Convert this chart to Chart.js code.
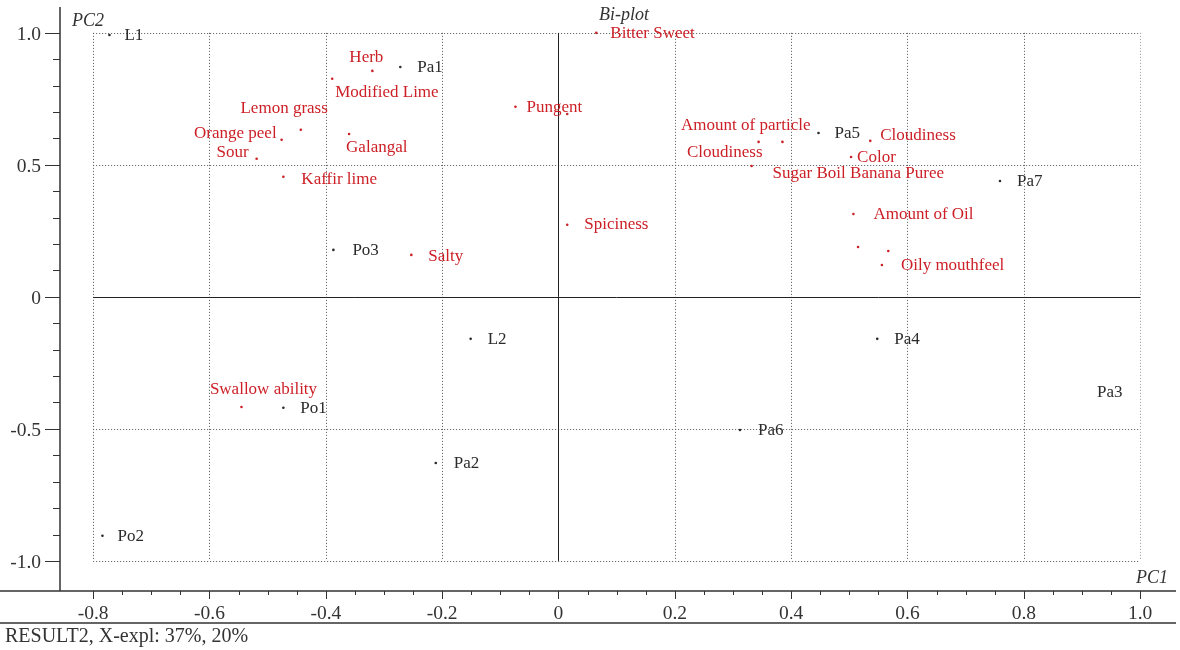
<!DOCTYPE html>
<html>
<head>
<meta charset="utf-8">
<script src="https://cdn.jsdelivr.net/npm/chart.js@4"></script>
<style>
    body { margin: 0; background: #fff; }
</style>
</head>
<body>
<canvas id="myChart" width="1180" height="650"></canvas>
<script>
// samples (black)
const sampleNames = ["L1", "Pa1", "Po3", "L2", "Po1", "Pa2", "Po2", "Pa6", "Pa4", "Pa3", "Pa5", "Pa7"];
const samplePC1 = [-0.772, -0.272, -0.387, -0.151, -0.473, -0.211, -0.784, 0.312, 0.548, 0.90, 0.447, 0.759];
const samplePC2 = [0.992, 0.871, 0.178, -0.159, -0.420, -0.629, -0.905, -0.504, -0.159, -0.36, 0.621, 0.439];

// attributes (red)
const attrNames = ["Herb", "Modified Lime", "Pungent", "", "Bitter Sweet", "Lemon grass", "Galangal",
    "Orange peel", "Sour", "Kaffir lime", "Spiciness", "Salty", "Swallow ability", "Amount of particle",
    "Cloudiness", "Sugar Boil Banana Puree", "Cloudiness", "Color", "Amount of Oil", "", "", "Oily mouthfeel"];
const attrPC1 = [-0.320, -0.389, -0.074, 0.015, 0.065, -0.443, -0.360, -0.476, -0.519, -0.473, 0.015, -0.253,
    -0.545, 0.385, 0.344, 0.332, 0.536, 0.503, 0.507, 0.515, 0.567, 0.556];
const attrPC2 = [0.856, 0.826, 0.720, 0.693, 1.0, 0.633, 0.617, 0.595, 0.523, 0.455, 0.273, 0.159,
    -0.417, 0.587, 0.587, 0.496, 0.591, 0.530, 0.314, 0.189, 0.174, 0.121];

const xTicks = [-0.8, -0.6, -0.4, -0.2, 0, 0.2, 0.4, 0.6, 0.8, 1.0];
const yTicks = [-1.0, -0.5, 0, 0.5, 1.0];

// label placement (align, dx, dy in px from the dot)
const sampleLabelPos = [
    ["left", 15, 0], ["left", 17, 0], ["left", 19, 0], ["left", 17, 0], ["left", 17, 0], ["left", 18, 0],
    ["left", 15, 0], ["left", 18, 0], ["left", 17, 0], ["left", 15, 0], ["left", 16, 0], ["left", 17, 0],
];
const attrLabelPos = [
    ["center", -6, -14], ["left", 3, 13], ["left", 11, 0], ["left", 0, 0], ["left", 14, 0],
    ["right", 27, -22], ["left", -3, 13], ["right", -5, -7], ["right", -8, -7], ["left", 18, 2],
    ["left", 17, -1], ["left", 17, 1], ["center", 22, -18], ["right", 28, -17], ["right", 4, 10],
    ["left", 21, 7], ["left", 10, -6], ["left", 6, 0], ["left", 20, 0], ["left", 0, 0], ["left", 0, 0],
    ["left", 19, 0],
];

const RED = "#cc1f26";
const DARK = "#2b2b2b";
const SERIF = "'Liberation Serif', 'Times New Roman', serif";

const toPoints = (xs, ys) => xs.map((x, i) => ({ x: x, y: ys[i] }));

const frame = {
    id: "frame",
    beforeDatasetsDraw(chart) {
        const c = chart.ctx;
        const sx = chart.scales.x;
        const sy = chart.scales.y;
        const x0 = sx.getPixelForValue(-0.8), x1 = sx.getPixelForValue(1.0);
        const y0 = sy.getPixelForValue(1.0), y1 = sy.getPixelForValue(-1.0);
        c.save();
        // dotted grid
        c.lineWidth = 1;
        c.setLineDash([1, 2]);
        xTicks.forEach((v) => {
            if (v === 0) return;
            const px = Math.round(sx.getPixelForValue(v)) + 0.5;
            c.strokeStyle = v === 1.0 ? "#999" : "#555";
            c.beginPath();
            c.moveTo(px, y0);
            c.lineTo(px, y1);
            c.stroke();
        });
        c.strokeStyle = "#555";
        yTicks.forEach((v) => {
            if (v === 0) return;
            const py = Math.round(sy.getPixelForValue(v)) + 0.5;
            c.beginPath();
            c.moveTo(x0, py);
            c.lineTo(x1, py);
            c.stroke();
        });
        // zero lines
        c.setLineDash([]);
        c.strokeStyle = "#222";
        const zx = Math.round(sx.getPixelForValue(0)) + 0.5;
        const zy = Math.round(sy.getPixelForValue(0)) + 0.5;
        c.beginPath();
        c.moveTo(zx, y0);
        c.lineTo(zx, y1);
        c.moveTo(x0, zy);
        c.lineTo(x1, zy);
        c.stroke();
        c.restore();
    },
    afterDatasetsDraw(chart) {
        const c = chart.ctx;
        const sx = chart.scales.x;
        const sy = chart.scales.y;
        const area = chart.chartArea;
        c.save();
        c.font = "17px " + SERIF;
        c.textBaseline = "middle";
        // point labels
        const drawLabels = (idx, names, pos, color) => {
            c.fillStyle = color;
            chart.getDatasetMeta(idx).data.forEach((el, i) => {
                if (!names[i]) return;
                const p = pos[i];
                c.textAlign = p[0];
                c.fillText(names[i], el.x + p[1], el.y + p[2] + 1);
            });
        };
        drawLabels(0, sampleNames, sampleLabelPos, DARK);
        drawLabels(1, attrNames, attrLabelPos, RED);

        // axes lines
        c.strokeStyle = "#333";
        c.lineWidth = 1.5;
        c.beginPath();
        c.moveTo(area.left, area.top);
        c.lineTo(area.left, area.bottom);
        c.moveTo(0, area.bottom);
        c.lineTo(area.right, area.bottom);
        c.moveTo(0, area.bottom + 32);
        c.lineTo(area.right, area.bottom + 32);
        c.stroke();

        // x ticks
        c.lineWidth = 1;
        c.strokeStyle = "#333";
        for (let k = 0; k <= 36; k++) {
            const v = -0.8 + k * 0.05;
            const px = Math.round(sx.getPixelForValue(v)) + 0.5;
            const len = k % 4 === 0 ? 8 : 4;
            c.beginPath();
            c.moveTo(px, area.bottom);
            c.lineTo(px, area.bottom + len);
            c.stroke();
        }
        // y ticks
        for (let k = 0; k <= 20; k++) {
            const v = -1.0 + k * 0.1;
            const py = Math.round(sy.getPixelForValue(v)) + 0.5;
            const len = k % 5 === 0 ? 15 : 7;
            c.beginPath();
            c.moveTo(area.left - len, py);
            c.lineTo(area.left, py);
            c.stroke();
        }

        c.fillStyle = "#333";
        c.font = "19.5px " + SERIF;
        c.textAlign = "center";
        xTicks.forEach((v) => {
            c.fillText(v === 0 ? "0" : v.toFixed(1), sx.getPixelForValue(v), area.bottom + 23);
        });
        c.textAlign = "right";
        yTicks.forEach((v) => {
            c.fillText(v === 0 ? "0" : v.toFixed(1), 41, sy.getPixelForValue(v) + 2);
        });

        // titles
        c.font = "italic 18px " + SERIF;
        c.textAlign = "left";
        c.fillText("PC2", 72, 21);
        c.textAlign = "center";
        c.fillText("Bi-plot", 624, 15);
        c.textAlign = "right";
        c.fillText("PC1", 1168, 578);

        c.font = "20px " + SERIF;
        c.textAlign = "left";
        c.fillText("RESULT2, X-expl: 37%, 20%", 5, 637);
        c.restore();
    },
};

const ctx = document.getElementById("myChart");

new Chart(ctx, {
    type: "scatter",
    data: {
        datasets: [
            {
                data: toPoints(samplePC1, samplePC2),
                backgroundColor: DARK,
                borderWidth: 0,
                pointRadius: samplePC1.map((x, i) => (sampleNames[i] === "Pa3" ? 0 : 1.3)),
            },
            {
                data: toPoints(attrPC1, attrPC2),
                backgroundColor: RED,
                borderWidth: 0,
                pointRadius: 1.3,
            },
        ],
    },
    options: {
        responsive: false,
        animation: false,
        layout: {
            padding: { left: 60, top: 7, right: 0, bottom: 59 },
        },
        plugins: {
            legend: { display: false },
            tooltip: { enabled: false },
        },
        scales: {
            x: { type: "linear", min: -0.857, max: 1.0616, display: false },
            y: { type: "linear", min: -1.114, max: 1.098, display: false },
        },
    },
    plugins: [frame],
});
</script>
</body>
</html>
